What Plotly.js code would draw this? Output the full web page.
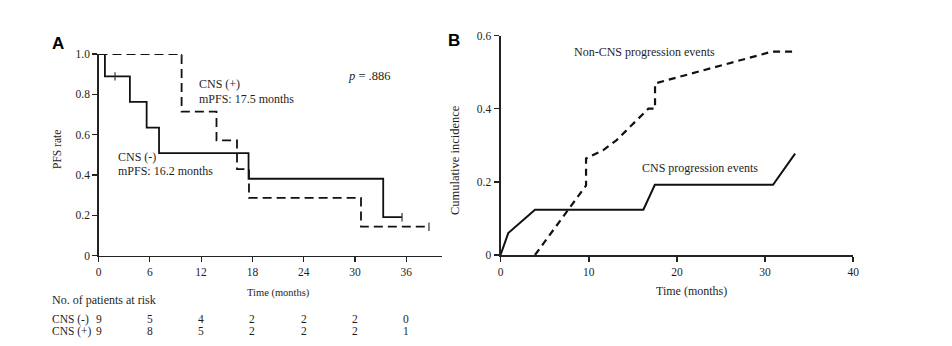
<!DOCTYPE html>
<html>
<head>
<meta charset="utf-8">
<script src="https://cdn.plot.ly/plotly-3.0.1.min.js"></script>
<style>html,body{margin:0;padding:0;background:#fff;}#chart{width:952px;height:346px;}</style>
</head>
<body>
<div id="chart"></div>
<script>
// ---- Data ----
// Panel A: Kaplan–Meier PFS
const cnsNegTime = [0, 0.75, 3.67, 5.63, 7.08, 17.55, 33.3, 35.5];
const cnsNegPFS  = [1.0, 0.889, 0.762, 0.635, 0.508, 0.381, 0.190, 0.190];
const cnsPosTime = [0, 9.72, 13.8, 16.2, 17.6, 30.7, 38.65];
const cnsPosPFS  = [1.0, 0.714, 0.571, 0.429, 0.286, 0.143, 0.143];
const cnsNegCensorTime = [1.93, 35.5];
const cnsNegCensorPFS  = [0.889, 0.190];
const cnsPosCensorTime = [9.72, 38.65];
const cnsPosCensorPFS  = [1.0, 0.143];

const riskTimes  = [0, 6, 12, 18, 24, 30, 36];
const riskCnsNeg = [9, 5, 4, 2, 2, 2, 0];
const riskCnsPos = [9, 8, 5, 2, 2, 2, 1];

const xTicksA = [0, 6, 12, 18, 24, 30, 36];
const yTicksA = [0, 0.2, 0.4, 0.6, 0.8, 1.0];
const yTickTextA = ["0", "0.2", "0.4", "0.6", "0.8", "1.0"];

// Panel B: cumulative incidence
const cnsEvTime = [0, 0.88, 3.91, 16.2, 17.5, 30.9, 33.4];
const cnsEvInc  = [0, 0.060, 0.124, 0.124, 0.192, 0.192, 0.277];
const nonCnsTime = [3.91, 9.7, 9.7, 11.66, 13.17, 14.68, 16.76, 17.52, 17.52, 30.8, 33.4];
const nonCnsInc  = [0, 0.19, 0.264, 0.287, 0.314, 0.351, 0.400, 0.400, 0.469, 0.556, 0.556];

const xTicksB = [0, 10, 20, 30, 40];
const yTicksB = [0, 0.2, 0.4, 0.6];
const yTickTextB = ["0", "0.2", "0.4", "0.6"];

// ---- Layout helpers ----
const W = 952, H = 346;
const px = x => x / W;
const py = y => 1 - y / H;
const SERIF = "Liberation Serif, Times New Roman, serif";
const TXT = "#1e1e1e";

const censorMarker = {symbol: 'line-ns-open', size: 6, color: '#333', line: {width: 1.2, color: '#333'}};
const traces = [
  {x: cnsNegTime, y: cnsNegPFS, xaxis: 'x', yaxis: 'y', mode: 'lines', line: {shape: 'hv', color: '#111', width: 1.8}, hoverinfo: 'skip'},
  {x: cnsPosTime, y: cnsPosPFS, xaxis: 'x', yaxis: 'y', mode: 'lines', line: {shape: 'hv', color: '#111', width: 1.8, dash: '9px,5px'}, hoverinfo: 'skip'},
  {x: cnsNegCensorTime, y: cnsNegCensorPFS, xaxis: 'x', yaxis: 'y', mode: 'markers', marker: censorMarker, hoverinfo: 'skip'},
  {x: cnsPosCensorTime, y: cnsPosCensorPFS, xaxis: 'x', yaxis: 'y', mode: 'markers', marker: censorMarker, hoverinfo: 'skip'},
  {x: cnsEvTime, y: cnsEvInc, xaxis: 'x2', yaxis: 'y2', mode: 'lines', line: {color: '#111', width: 2}, hoverinfo: 'skip'},
  {x: nonCnsTime, y: nonCnsInc, xaxis: 'x2', yaxis: 'y2', mode: 'lines', line: {color: '#111', width: 2.2, dash: '7px,5px'}, hoverinfo: 'skip'}
];

const axisCommon = {
  showgrid: false, zeroline: false, showline: true, linecolor: '#222',
  ticks: 'outside', ticklen: 5, tickcolor: '#222', tickwidth: 1.2,
  tickfont: {family: SERIF, size: 11.5, color: TXT}, fixedrange: true
};

const annotations = [];
function ann(text, x, y, opts) {
  annotations.push(Object.assign({text: text, x: px(x), y: py(y), xref: 'paper', yref: 'paper', showarrow: false,
    font: {family: SERIF, size: 12, color: TXT}, xanchor: 'left', yanchor: 'middle'}, opts || {}));
}
// Panel labels
ann('<b>A</b>', 58.3, 43.5, {xanchor: 'center', font: {family: 'Liberation Sans, Arial, sans-serif', size: 17, color: '#000'}});
ann('<b>B</b>', 454, 40.5, {xanchor: 'center', font: {family: 'Liberation Sans, Arial, sans-serif', size: 17, color: '#000'}});
// Panel A texts
ann('CNS (+)', 196.5, 84);
ann('mPFS: 17.5 months', 196.5, 99.3);
ann('CNS (-)', 116, 156.7);
ann('mPFS: 16.2 months', 116, 170.5);
ann('<i>p</i> = .886', 346, 76, {font: {family: SERIF, size: 12.5, color: TXT}});
ann('PFS rate', 57, 150, {xanchor: 'center', textangle: -90, font: {family: SERIF, size: 11.5, color: TXT}});
ann('Time (months)', 278, 292.5, {xanchor: 'center', font: {family: SERIF, size: 10.5, color: TXT}});
ann('No. of patients at risk', 50, 299.5, {font: {family: SERIF, size: 12, color: TXT}});
ann('CNS (-)', 50, 319, {font: {family: SERIF, size: 11.5, color: TXT}});
ann('CNS (+)', 50, 331, {font: {family: SERIF, size: 11.5, color: TXT}});
riskTimes.forEach((t, i) => {
  annotations.push({text: String(riskCnsNeg[i]), x: t, xref: 'x', y: py(319), yref: 'paper', showarrow: false,
    xanchor: 'center', yanchor: 'middle', font: {family: SERIF, size: 11.5, color: TXT}});
  annotations.push({text: String(riskCnsPos[i]), x: t, xref: 'x', y: py(331), yref: 'paper', showarrow: false,
    xanchor: 'center', yanchor: 'middle', font: {family: SERIF, size: 11.5, color: TXT}});
});
// Panel B texts
ann('Non-CNS progression events', 571.5, 51.7);
ann('CNS progression events', 640, 168.3);
ann('Cumulative incidence', 455, 160, {xanchor: 'center', textangle: -90, font: {family: SERIF, size: 12.5, color: TXT}});
ann('Time (months)', 691.5, 290.7, {xanchor: 'center', font: {family: SERIF, size: 12, color: TXT}});

const layout = {
  width: W, height: H,
  margin: {l: 0, r: 0, t: 0, b: 0},
  paper_bgcolor: '#fff', plot_bgcolor: 'rgba(0,0,0,0)',
  showlegend: false,
  xaxis: Object.assign({}, axisCommon, {domain: [px(98.5), px(441.7)], range: [0, 40.14], tickvals: xTicksA, ticktext: xTicksA.map(String), linewidth: 1.3, anchor: 'y'}),
  yaxis: Object.assign({}, axisCommon, {domain: [py(255.5), py(54)], range: [0, 1.0], tickvals: yTicksA, ticktext: yTickTextA, linewidth: 1.3, anchor: 'x'}),
  xaxis2: Object.assign({}, axisCommon, {domain: [px(500.5), px(853.3)], range: [0, 40], tickvals: xTicksB, ticktext: xTicksB.map(String), linewidth: 2, tickwidth: 1.6, anchor: 'y2'}),
  yaxis2: Object.assign({}, axisCommon, {domain: [py(255), py(35.5)], range: [0, 0.6], tickvals: yTicksB, ticktext: yTickTextB, linewidth: 2, tickwidth: 1.6, anchor: 'x2'}),
  annotations: annotations
};

Plotly.newPlot('chart', traces, layout, {displayModeBar: false, staticPlot: true});
</script>
</body>
</html>
